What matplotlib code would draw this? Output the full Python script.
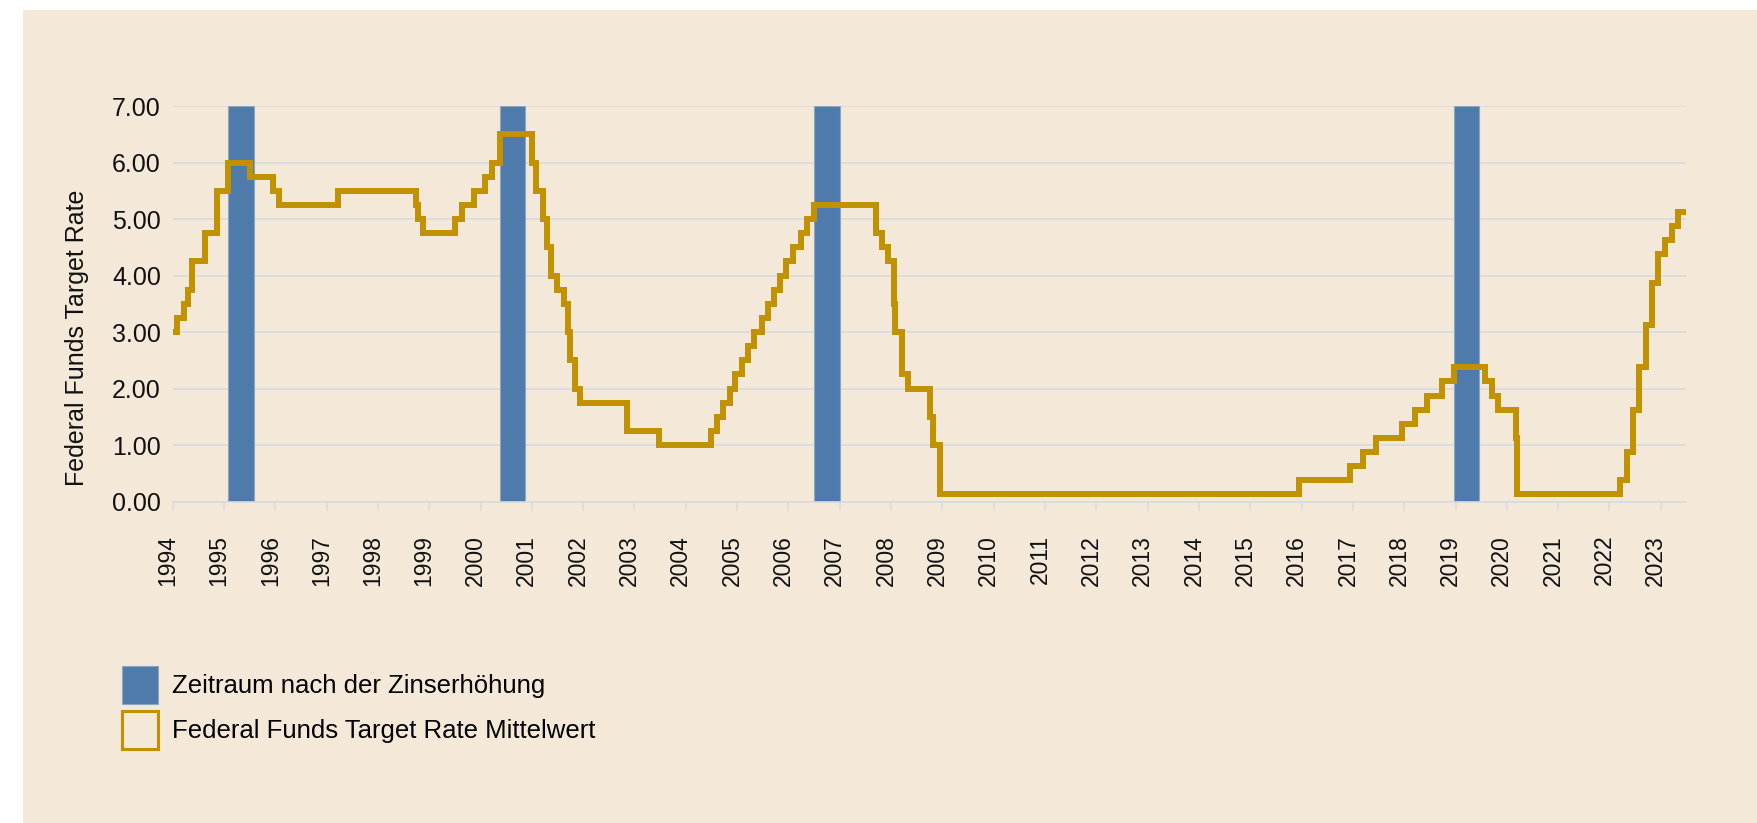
import matplotlib.pyplot as plt
import numpy as np
import pandas as pd
from matplotlib.patches import Patch, Rectangle
from matplotlib.transforms import ScaledTranslation

plt.rcParams['font.family'] = ['Liberation Sans', 'DejaVu Sans']

# Fed funds target rate (midpoint of range after 2008), step changes
change_dates = ['1994-01-01', '1994-02-04', '1994-03-22', '1994-04-18', '1994-05-17', '1994-08-16',
                '1994-11-15', '1995-02-01', '1995-07-06', '1995-12-19', '1996-01-31', '1997-03-25',
                '1998-09-29', '1998-10-15', '1998-11-17', '1999-06-30', '1999-08-24', '1999-11-16',
                '2000-02-02', '2000-03-21', '2000-05-16', '2001-01-03', '2001-01-31', '2001-03-20',
                '2001-04-18', '2001-05-15', '2001-06-27', '2001-08-21', '2001-09-17', '2001-10-02',
                '2001-11-06', '2001-12-11', '2002-11-06', '2003-06-25', '2004-06-30', '2004-08-10',
                '2004-09-21', '2004-11-10', '2004-12-14', '2005-02-02', '2005-03-22', '2005-05-03',
                '2005-06-30', '2005-08-09', '2005-09-20', '2005-11-01', '2005-12-13', '2006-01-31',
                '2006-03-28', '2006-05-10', '2006-06-29', '2007-09-18', '2007-10-31', '2007-12-11',
                '2008-01-22', '2008-01-30', '2008-03-18', '2008-04-30', '2008-10-08', '2008-10-29',
                '2008-12-16', '2015-12-16', '2016-12-14', '2017-03-15', '2017-06-14', '2017-12-13',
                '2018-03-21', '2018-06-13', '2018-09-26', '2018-12-19', '2019-07-31', '2019-09-18',
                '2019-10-30', '2020-03-03', '2020-03-15', '2022-03-16', '2022-05-04', '2022-06-15',
                '2022-07-27', '2022-09-21', '2022-11-02', '2022-12-14', '2023-02-01', '2023-03-22',
                '2023-05-03', '2023-06-28']
rates = [3.00, 3.25, 3.50, 3.75, 4.25, 4.75,
         5.50, 6.00, 5.75, 5.50, 5.25, 5.50,
         5.25, 5.00, 4.75, 5.00, 5.25, 5.50,
         5.75, 6.00, 6.50, 6.00, 5.50, 5.00,
         4.50, 4.00, 3.75, 3.50, 3.00, 2.50,
         2.00, 1.75, 1.25, 1.00, 1.25, 1.50,
         1.75, 2.00, 2.25, 2.50, 2.75, 3.00,
         3.25, 3.50, 3.75, 4.00, 4.25, 4.50,
         4.75, 5.00, 5.25, 4.75, 4.50, 4.25,
         3.50, 3.00, 2.25, 2.00, 1.50, 1.00,
         0.125, 0.375, 0.625, 0.875, 1.125, 1.375,
         1.625, 1.875, 2.125, 2.375, 2.125, 1.875,
         1.625, 1.125, 0.125, 0.375, 0.875, 1.625,
         2.375, 3.125, 3.875, 4.375, 4.625, 4.875,
         5.125, 5.125]

# periods after the last hike of a cycle (about six months)
period_start = ['1995-02-01', '2000-05-16', '2006-06-29', '2018-12-19']
period_end = ['1995-07-31', '2000-11-15', '2006-12-31', '2019-06-20']

years = list(range(1994, 2024))
y_ticks = [0, 1, 2, 3, 4, 5, 6, 7]

beige = '#F4E8D9'
blue = '#4E7BAC'
gold = '#C29100'
grid_c = '#D8DBDE'


def to_year(s):
    d = pd.to_datetime(pd.Series(s))
    n = np.where(d.dt.is_leap_year, 366, 365)
    return (d.dt.year + (d.dt.dayofyear - 1) / n).values


x = to_year(change_dates)
x0 = to_year(period_start)
x1 = to_year(period_end)

fig = plt.figure(figsize=(17.58, 8.23), dpi=100, facecolor='white')
# beige card behind everything
fig.patches.append(Rectangle((23 / 1758, 0), 1, 1 - 10 / 823, transform=fig.transFigure,
                             facecolor=beige, edgecolor='none', zorder=-10))

ax = fig.add_axes([0.0982, 0.3906, 0.8608, 0.4806])
ax.set_facecolor('none')

ax.bar(x0, 7, width=x1 - x0, align='edge', color=blue, edgecolor='#8AA6C6',
       linewidth=0.8, zorder=2, label='Zeitraum nach der Zinserhöhung')
ax.plot(x, rates, drawstyle='steps-post', color=gold, linewidth=4.3,
        solid_joinstyle='miter', zorder=3)

ax.set_xlim(1994, 2023.49)
ax.set_ylim(0, 7)

ax.set_xticks(years)
ax.set_xticklabels([str(y) for y in years], rotation=90, fontsize=16.5)
ax.set_yticks(y_ticks)
ax.set_yticklabels(['%.2f' % v for v in y_ticks], fontsize=18)

ax.grid(True, axis='y', color=grid_c, linewidth=1.2, zorder=0)
ax.set_axisbelow(True)
for s in ['top', 'right', 'left']:
    ax.spines[s].set_visible(False)
ax.spines['bottom'].set_color(grid_c)
ax.spines['bottom'].set_linewidth(1.2)
ax.tick_params(axis='x', length=6.5, width=1.1, color=grid_c, pad=17.5, labelcolor='#111111')
ax.tick_params(axis='y', length=0, pad=8.5, labelcolor='#111111')

# nudge rotated year labels a bit left, like the original
shift = ScaledTranslation(-0.05, 0, fig.dpi_scale_trans)
for lab in ax.get_xticklabels():
    lab.set_transform(lab.get_transform() + shift)

ax.set_ylabel('Federal Funds Target Rate', fontsize=18, color='#111111')
ax.yaxis.set_label_coords(-0.0555, 0.413)

handles = [Patch(facecolor=blue, edgecolor='#8AA6C6', linewidth=0.8),
           Patch(facecolor='none', edgecolor=gold, linewidth=2.2)]
labels = ['Zeitraum nach der Zinserhöhung', 'Federal Funds Target Rate Mittelwert']
fig.legend(handles, labels, loc='upper left', bbox_to_anchor=(121.7 / 1758, 1 - 666 / 823),
           frameon=False, fontsize=18.5, borderpad=0, borderaxespad=0,
           handlelength=1.42, handleheight=1.9, handletextpad=0.55, labelspacing=0.27)

plt.savefig('out.png', dpi=100, facecolor='white')
